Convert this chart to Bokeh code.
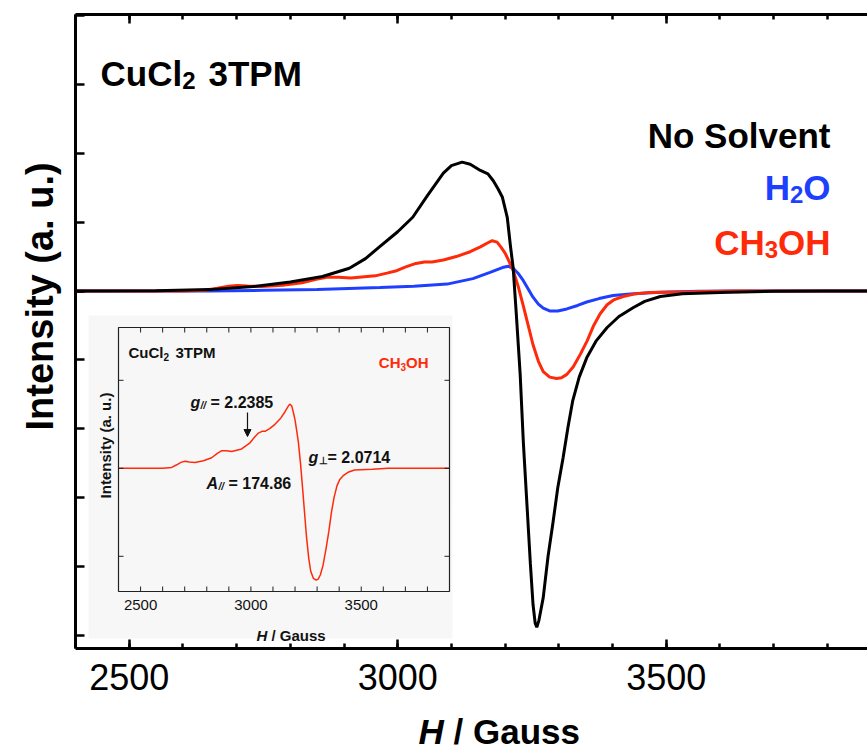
import math
from bokeh.plotting import figure
from bokeh.layouts import column
from bokeh.models import Range1d, LinearAxis, FixedTicker, Label, Arrow, NormalHead, Title
from bokeh.core.properties import value
from bokeh.embed import file_html
from bokeh.resources import INLINE

# ---------------- data (field in Gauss, intensity in a.u.) ----------------
field_black = [2400, 2550, 2650, 2725, 2800, 2860, 2910, 2940, 2966, 3000, 3028, 3055,
               3085, 3100, 3120, 3135, 3154, 3168, 3178, 3187, 3195, 3204, 3210, 3215,
               3221, 3228, 3234, 3241, 3247, 3252, 3256, 3259, 3263, 3271, 3280, 3289,
               3298, 3308, 3317, 3326, 3338, 3352, 3370, 3390, 3412, 3439, 3460, 3489,
               3530, 3600, 3700, 3800, 3900]
int_black = [0.0, 0.005, 0.02, 0.06, 0.13, 0.21, 0.33, 0.47, 0.64, 0.86, 1.07, 1.38,
             1.71, 1.82, 1.87, 1.84, 1.75, 1.70, 1.60, 1.48, 1.36, 1.07, 0.65, 0.34,
             -0.35, -1.2, -2.2, -3.14, -3.95, -4.55, -4.82, -4.88, -4.78, -4.45, -3.85, -3.37,
             -2.86, -2.42, -1.98, -1.59, -1.25, -0.97, -0.72, -0.53, -0.37, -0.24, -0.15, -0.08,
             -0.04, -0.02, -0.005, 0.0, 0.0]

field_red = [2400, 2600, 2641, 2664, 2685, 2702, 2720, 2747, 2785, 2822, 2848, 2868,
             2890, 2913, 2958, 2980, 2996, 3015, 3034, 3050, 3064, 3085, 3109, 3135,
             3154, 3168, 3176, 3185, 3192, 3200, 3208, 3215, 3225, 3234, 3243, 3252,
             3262, 3271, 3283, 3296, 3305, 3315, 3327, 3340, 3353, 3365, 3377, 3390,
             3402, 3420, 3440, 3470, 3550, 3622, 3900]
int_red = [0.0, 0.0, 0.01, 0.04, 0.07, 0.08, 0.072, 0.065, 0.085, 0.12, 0.17, 0.20,
           0.20, 0.19, 0.22, 0.26, 0.29, 0.35, 0.40, 0.42, 0.42, 0.45, 0.50, 0.57,
           0.64, 0.70, 0.73, 0.71, 0.64, 0.55, 0.42, 0.30, 0.05, -0.22, -0.50, -0.78,
           -1.02, -1.17, -1.25, -1.27, -1.26, -1.21, -1.10, -0.92, -0.72, -0.50, -0.33, -0.20,
           -0.13, -0.08, -0.045, -0.02, -0.01, 0.0, 0.0]

field_blue = [2400, 2650, 2750, 2850, 2967, 3030, 3092, 3140, 3172, 3195, 3206, 3215,
              3225, 3234, 3243, 3252, 3262, 3271, 3283, 3298, 3315, 3335, 3352, 3375,
              3401, 3439, 3489, 3560, 3650, 3900]
int_blue = [0.0, 0.0, 0.01, 0.02, 0.05, 0.07, 0.10, 0.18, 0.27, 0.34, 0.36, 0.33,
            0.25, 0.15, 0.03, -0.09, -0.19, -0.25, -0.29, -0.29, -0.26, -0.21, -0.16, -0.11,
            -0.065, -0.04, -0.017, -0.005, 0.0, 0.0]

x_major_ticks = [2500, 3000, 3500]
x_tick_labels = ["2500", "3000", "3500"]
x_minor_ticks = [2400, 2500, 2600, 2700, 2800, 2900, 3000, 3100, 3200, 3300, 3400,
                 3500, 3600, 3700, 3800]
y_ticks = [-5, -4, -3, -2, -1, 0, 1, 2, 3, 4]
inset_x_range = [2400, 3900]
inset_y_range = [-1.4, 1.6]
inset_y_ticks = [-1, 0, 1]

BLACK = "#000000"
RED = "#ff2a0a"
BLUE = "#1f3fff"
FONT = "Liberation Sans"

# ---------------- layout geometry (page pixels) ----------------
W = 867
H_MAIN = 712          # main figure height; x-title strip below it
H_TITLE = 751 - H_MAIN
ML, MT, MR = 75, 14, 0
FRAME_BOTTOM = 648
MB = H_MAIN - FRAME_BOTTOM
PX_PER_G = 0.537
PX_PER_U = 68.9
ZERO_PY = 290.5
frame_w = W - ML - MR
x_start = 2400
x_end = x_start + frame_w / PX_PER_G
y_end = (ZERO_PY - MT) / PX_PER_U
y_start = (ZERO_PY - FRAME_BOTTOM) / PX_PER_U


def gx(px):
    return x_start + (px - ML) / PX_PER_G


def gy(py):
    return (ZERO_PY - py) / PX_PER_U


# inset frame (page px)
IL, IR, IT, IB = 118, 449, 327, 591


def ix(px):
    return inset_x_range[0] + (px - IL) * (inset_x_range[1] - inset_x_range[0]) / (IR - IL)


def iy(py):
    return inset_y_range[1] - (py - IT) * (inset_y_range[1] - inset_y_range[0]) / (IB - IT)


xr = Range1d(x_start, x_end)
p = figure(width=W, height=H_MAIN, x_range=xr, y_range=Range1d(y_start, y_end),
           output_backend="svg", toolbar_location=None,
           min_border_left=ML, min_border_right=MR, min_border_top=MT, min_border_bottom=MB)
p.xgrid.visible = False
p.ygrid.visible = False
p.outline_line_color = None
p.background_fill_color = "white"
p.border_fill_color = "white"

xa = p.xaxis[0]
xa.ticker = FixedTicker(ticks=x_major_ticks, minor_ticks=x_minor_ticks)
xa.major_label_overrides = {t: s for t, s in zip(x_major_ticks, x_tick_labels)}
xa.major_label_text_font = FONT
xa.major_label_text_font_size = "36px"
xa.major_label_text_color = "black"
xa.major_label_standoff = 15
xa.major_tick_in = 9
xa.major_tick_out = 0
xa.minor_tick_in = 5
xa.minor_tick_out = 0
xa.axis_line_width = 3
xa.major_tick_line_width = 2.5
xa.minor_tick_line_width = 2.5

top = LinearAxis(ticker=FixedTicker(ticks=x_major_ticks, minor_ticks=x_minor_ticks),
                 major_label_text_font_size="0px", major_label_standoff=0,
                 major_label_text_color=None,
                 major_tick_in=9, major_tick_out=0, minor_tick_in=5, minor_tick_out=0,
                 axis_line_width=3, major_tick_line_width=2.5, minor_tick_line_width=2.5)
p.add_layout(top, "above")

ya = p.yaxis[0]
ya.ticker = FixedTicker(ticks=y_ticks, minor_ticks=[])
ya.major_label_text_font_size = "0px"
ya.major_label_text_color = None
ya.major_label_standoff = 0
ya.major_tick_in = 9
ya.major_tick_out = 0
ya.minor_tick_line_color = None
ya.axis_line_width = 3
ya.major_tick_line_width = 2.5

# y-axis title: a side title, started 218 px above the frame bottom
p.add_layout(Title(text="Intensity (a. u.)", align="left", vertical_align="bottom",
                   offset=FRAME_BOTTOM - 430, standoff=29, text_font=FONT,
                   text_font_size="38px", text_font_style="bold", text_color="black"),
             "left")

# ---------------- inset background ----------------
p.quad(left=gx(88), right=gx(452), bottom=gy(638), top=gy(315),
       fill_color="#f7f7f7", line_color=None)

# ---------------- main curves ----------------
p.line(field_blue, int_blue, line_color=BLUE, line_width=3)
p.line(field_red, int_red, line_color=RED, line_width=3)
p.line(field_black, int_black, line_color=BLACK, line_width=3)

# ---------------- inset ----------------
inset = p.subplot(x_source=Range1d(*inset_x_range), y_source=Range1d(*inset_y_range),
                  x_target=Range1d(gx(IL), gx(IR)), y_target=Range1d(gy(IB), gy(IT)))

inset.line(field_red, int_red, line_color=RED, line_width=1.5)
inset.quad(left=inset_x_range[0], right=inset_x_range[1], bottom=inset_y_range[0],
           top=inset_y_range[1], fill_color=None, line_color="#222222", line_width=1.2)

gpp = (inset_x_range[1] - inset_x_range[0]) / (IR - IL)   # gauss per px (inset)
upp = (inset_y_range[1] - inset_y_range[0]) / (IB - IT)   # units per px (inset)
tl = 5
inner_ticks = x_minor_ticks[1:]
n = len(inner_ticks)
inset.segment(x0=inner_ticks, y0=[inset_y_range[0]] * n,
              x1=inner_ticks, y1=[inset_y_range[0] + tl * upp] * n,
              line_color="#222222", line_width=1)
inset.segment(x0=inner_ticks, y0=[inset_y_range[1]] * n,
              x1=inner_ticks, y1=[inset_y_range[1] - tl * upp] * n,
              line_color="#222222", line_width=1)
inset.segment(x0=[inset_x_range[0]] * 3, y0=inset_y_ticks,
              x1=[inset_x_range[0] + tl * gpp] * 3, y1=inset_y_ticks,
              line_color="#222222", line_width=1)
inset.segment(x0=[inset_x_range[1]] * 3, y0=inset_y_ticks,
              x1=[inset_x_range[1] - tl * gpp] * 3, y1=inset_y_ticks,
              line_color="#222222", line_width=1)

inset.text(x=x_major_ticks, y=[iy(604)] * 3, text=x_tick_labels,
           text_align="center", text_baseline="middle",
           text_font=value(FONT), text_font_size="15px", text_color="#111111")


def itext(px, py, txt, size="15px", style="bold", align="left", color="#111111", angle=0):
    inset.text(x=[ix(px)], y=[iy(py)], text=[txt], text_align=align,
               text_baseline="alphabetic", text_font=value(FONT), text_font_size=size,
               text_font_style=style, text_color=color, angle=angle)


# inset axis titles
itext(105, 445, "Intensity (a. u.)", align="center", angle=math.pi / 2)
itext(256, 635, "H", style="bold italic")
itext(271, 635, "/ Gauss")
# inset title and solvent
itext(128, 352, "CuCl")
itext(163, 356, "2", size="10px")
itext(175, 352, "3TPM")
itext(428, 362, "OH", align="right", color=RED)
itext(405.5, 366, "3", size="10px", align="right", color=RED)
itext(400, 362, "CH", align="right", color=RED)
# g parallel
itext(190, 402, "g", size="16px", style="bold italic")
itext(200, 405, "//", size="10px", style="bold italic")
itext(210, 402, "= 2.2385", size="16px")
# g perpendicular
itext(308, 457, "g", size="16px", style="bold italic")
itext(318, 460, "\u22a5", size="10px")
itext(327, 457, "= 2.0714", size="16px")
# A parallel
itext(206, 483, "A", size="16px", style="bold italic")
itext(218, 486, "//", size="10px", style="bold italic")
itext(228, 483, "= 174.86", size="16px")

p.add_layout(Arrow(x_start=gx(247), y_start=gy(412), x_end=gx(247), y_end=gy(436),
                   line_color="#111111", line_width=1.2,
                   end=NormalHead(size=7, fill_color="#111111", line_color="#111111")))


# ---------------- main labels ----------------
def mlabel(px, py, txt, size="35px", style="bold", align="left", color="black"):
    p.add_layout(Label(x=gx(px), y=gy(py), text=txt, text_font=FONT, text_font_size=size,
                       text_font_style=style, text_align=align, text_baseline="alphabetic",
                       text_color=color))


mlabel(100, 73, "CuCl")
mlabel(181.7, 80, "2", size="24px")
mlabel(208, 73, "3TPM")

mlabel(830, 135, "No Solvent", align="right")
mlabel(830, 187, "O", align="right", color=BLUE)
mlabel(802.8, 194, "2", size="24px", align="right", color=BLUE)
mlabel(789.5, 187, "H", align="right", color=BLUE)
mlabel(830, 242, "OH", align="right", color=RED)
mlabel(777.5, 249, "3", size="24px", align="right", color=RED)
mlabel(764.2, 242, "CH", align="right", color=RED)

# ---------------- x-axis title strip (mixed italic / upright) ----------------
q = figure(width=W, height=H_TITLE, frame_width=frame_w, frame_height=H_TITLE,
           x_range=xr, y_range=Range1d(0, H_TITLE), title=None,
           output_backend="svg", toolbar_location=None,
           min_border_left=ML, min_border_right=MR, min_border_top=0, min_border_bottom=0,
           x_axis_location=None, y_axis_location=None)
q.outline_line_color = None
q.background_fill_color = "white"
q.border_fill_color = "white"
q.xgrid.visible = False
q.ygrid.visible = False
TITLE_BASE = 20   # baseline height inside the strip
q.text(x=[gx(418)], y=[TITLE_BASE], text=["H"], text_font=value(FONT), text_font_size="35px",
       text_font_style="bold italic", text_baseline="alphabetic", text_color="black")
q.text(x=[gx(453)], y=[TITLE_BASE], text=["/ Gauss"], text_font=value(FONT),
       text_font_size="35px", text_font_style="bold", text_baseline="alphabetic",
       text_color="black")

layout = column(p, q, spacing=0)
open("out.html", "w").write(file_html(layout, INLINE))
